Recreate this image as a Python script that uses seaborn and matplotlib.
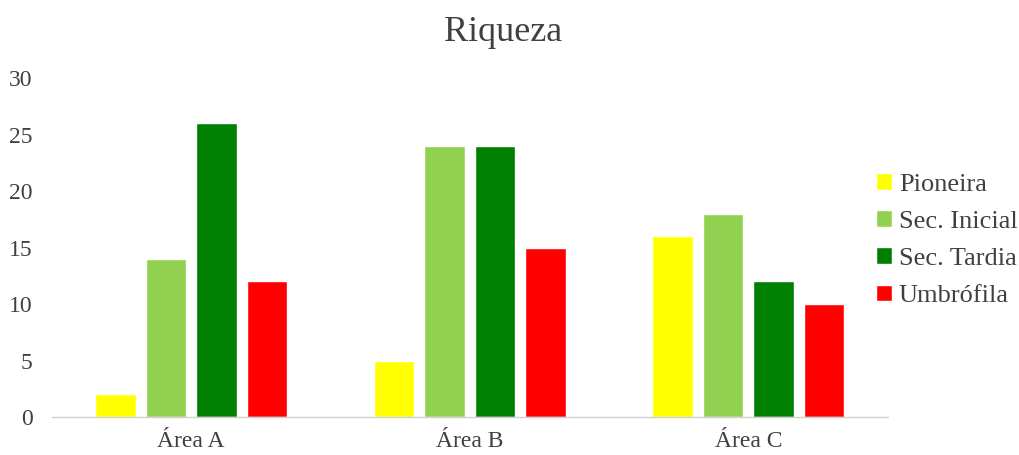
import pandas as pd
import matplotlib.pyplot as plt
import seaborn as sns

sns.set_theme(style="white")
plt.rcParams['font.family'] = ['Liberation Serif', 'DejaVu Serif']

# Dados
areas = ['Área A', 'Área B', 'Área C']
grupos = ['Pioneira', 'Sec. Inicial', 'Sec. Tardia', 'Umbrófila']
pioneira = [2, 5, 16]
sec_inicial = [14, 24, 18]
sec_tardia = [26, 24, 12]
umbrofila = [12, 15, 10]
cores = ['#FFFF00', '#92D050', '#008000', '#FF0000']

valores = [pioneira, sec_inicial, sec_tardia, umbrofila]
df = pd.DataFrame([(a, g, v[i]) for g, v in zip(grupos, valores) for i, a in enumerate(areas)],
                  columns=['area', 'grupo', 'riqueza'])

fig = plt.figure(figsize=(10.19, 4.55), dpi=100)
ax = fig.add_axes([0.051, 0.0835, 0.82, 0.745])
sns.barplot(data=df, x='area', y='riqueza', hue='grupo', hue_order=grupos, order=areas,
            palette=cores, width=0.725, gap=0.19, saturation=1, ax=ax)

ax.set_ylim(0, 30)
ax.set_yticks(range(0, 31, 5))
ax.set_xlabel('')
ax.set_ylabel('')
ax.tick_params(axis='both', length=0, colors='#404040')
ax.tick_params(axis='y', pad=14, labelsize=17)
ax.tick_params(axis='x', pad=10, labelsize=17)
for s in ['top', 'right', 'left']:
    ax.spines[s].set_visible(False)
ax.spines['bottom'].set_color('#D0D0D0')
ax.spines['bottom'].set_linewidth(1)

fig.suptitle('Riqueza', fontsize=26, color='#404040', x=0.494, y=0.965)

ax.legend(loc='center left', bbox_to_anchor=(0.86, 0.472), bbox_transform=fig.transFigure,
          frameon=False, fontsize=19, borderpad=0, borderaxespad=0,
          handlelength=0.6, handleheight=0.6, handletextpad=0.25, labelspacing=0.55,
          labelcolor='#404040')

fig.savefig('out.png', dpi=100)
